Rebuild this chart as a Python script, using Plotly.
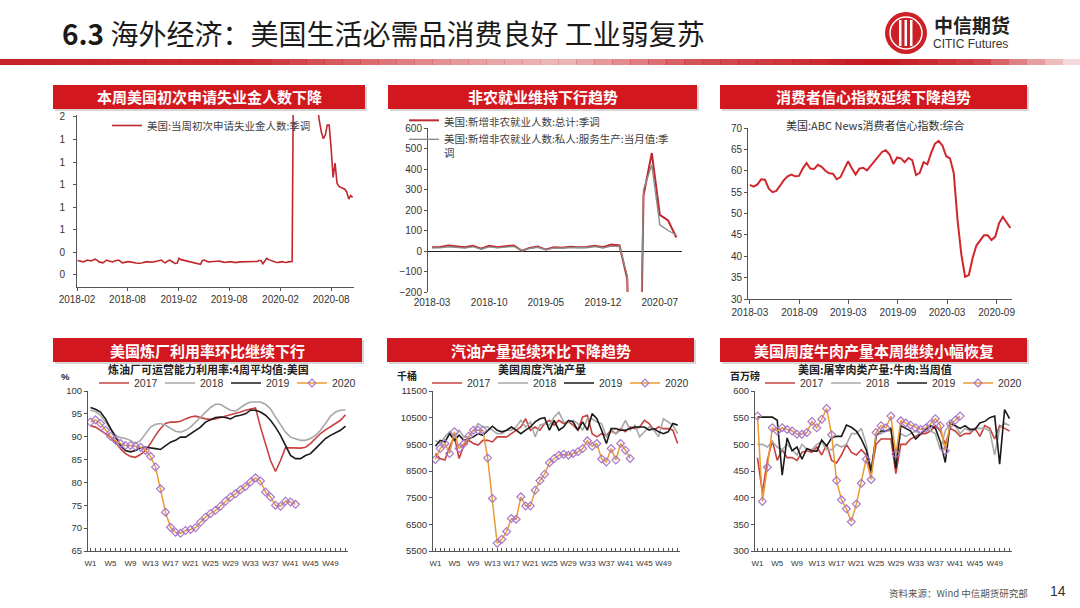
import numpy as np
import pandas as pd
import plotly.graph_objects as go

W, H = 1080, 608
def X(p): return p / W
def Y(p): return 1 - p / H

# ---------------- DATA ----------------
# Panel 1: weekly initial jobless claims (chart units)
claims_start = "2018-02-03"
claims = [
    0.160, 0.155, 0.150, 0.145, 0.155, 0.165, 0.160, 0.155, 0.165, 0.175,
    0.165, 0.145, 0.140, 0.135, 0.150, 0.165, 0.155, 0.150, 0.145, 0.155,
    0.160, 0.165, 0.150, 0.135, 0.140, 0.145, 0.148, 0.145, 0.138, 0.135,
    0.132, 0.130, 0.128, 0.132, 0.140, 0.145, 0.148, 0.142, 0.140, 0.145,
    0.150, 0.155, 0.160, 0.165, 0.145, 0.135, 0.150, 0.165, 0.155, 0.140,
    0.128, 0.130, 0.185, 0.170, 0.165, 0.160, 0.150, 0.147, 0.145, 0.140,
    0.137, 0.130, 0.120, 0.118, 0.160, 0.165, 0.155, 0.145, 0.147, 0.148,
    0.147, 0.150, 0.152, 0.155, 0.145, 0.140, 0.138, 0.145, 0.148, 0.147,
    0.140, 0.138, 0.140, 0.145, 0.146, 0.147, 0.140, 0.143, 0.147, 0.145,
    0.146, 0.148, 0.150, 0.160, 0.160, 0.125, 0.150, 0.185, 0.170, 0.160,
    0.155, 0.145, 0.138, 0.140, 0.145, 0.148, 0.142, 0.138, 0.145, 0.148,
    0.150,
    3.30, 6.90, 6.60, 5.20, 4.40, 3.80, 3.20, 2.80, 2.40, 2.20, 2.10, 2.00,
    1.86, 1.70, 1.58, 1.51, 1.55, 1.66, 1.66, 1.40, 1.08, 1.24, 1.02, 0.98,
    0.97, 0.96, 0.95, 0.92, 0.84, 0.88, 0.86,
]
claims_xticks = ["2018-02-01", "2018-08-01", "2019-02-01", "2019-08-01", "2020-02-01", "2020-08-01"]
claims_yticks = [0, 0.25, 0.5, 0.75, 1.0, 1.25, 1.5, 1.75]
claims_ytext = ["0", "0", "1", "1", "1", "1", "1", "2"]

# Panel 2: monthly nonfarm payrolls (10k persons)
nfp_start = "2018-03-01"
nfp_total = [18, 20, 27, 24, 18, 26, 11, 25, 18, 23,
             27, 1, 15, 22, 7, 18, 16, 21, 18, 19, 26, 18,
             31, 27, -137, -2068, 272, 478, 176, 149, 66]
nfp_service = [15, 16, 21, 19, 14, 21, 9, 20, 15, 19,
               22, 3, 12, 18, 6, 15, 14, 17, 16, 16, 22, 15,
               24, 22, -120, -1750, 300, 420, 128, 100, 78]
nfp_xticks = ["2018-03-01", "2018-10-01", "2019-05-01", "2019-12-01", "2020-07-01"]

# Panel 3: ABC News consumer comfort index (bi-weekly readings)
abc_start = "2018-03-01"
abc = [56.7, 56.3, 56.8, 58.0, 57.9, 55.8, 55.0, 55.3, 56.5, 57.8,
       58.7, 59.1, 58.7, 58.8, 60.5, 61.8, 60.5, 60.4, 61.4, 60.9,
       60.0, 59.4, 59.3, 58.0, 58.5, 60.2, 62.2, 60.6, 59.1, 60.5,
       60.7, 60.1, 61.2, 62.2, 63.4, 64.4, 64.8, 63.8, 61.6, 63.1,
       62.9, 62.0, 63.0, 62.5, 59.0, 59.5, 62.0, 61.5, 64.1, 66.3,
       67.0, 65.9, 63.4, 62.9, 59.5, 48.5, 40.5, 35.2, 35.6, 39.6,
       42.5, 43.7, 44.9, 44.9, 43.8, 44.6, 47.7, 49.2, 47.9, 46.6]
abc_xticks = ["2018-03-01", "2018-09-01", "2019-03-01", "2019-09-01", "2020-03-01", "2020-09-01"]

# Bottom panels: weekly seasonal series
weeks = ["W%d" % i for i in range(1, 53)]
week_labels = ["W1", "W5", "W9", "W13", "W17", "W21", "W25", "W29", "W33", "W37", "W41", "W45", "W49"]
years = ["2017", "2018", "2019", "2020"]

ref_2017 = [92.4, 92.1, 91.4, 90.7, 89.9, 88.8, 87.4, 86.3, 85.7, 85.5,
            86.1, 87.0, 88.5, 90.3, 91.8, 92.9, 93.2, 93.2, 93.4, 93.9,
            94.3, 94.5, 94.2, 93.9, 93.8, 93.9, 94.2, 94.5, 94.7, 95.0,
            95.4, 95.8, 96.0, 96.3, 92.1, 88.5, 84.8, 82.4, 84.8, 87.6,
            87.6, 87.5, 87.5, 87.7, 88.5, 89.6, 90.7, 91.5, 92.2, 92.8,
            93.6, 94.8]
ref_2018 = [95.8, 95.5, 94.7, 93.2, 91.8, 90.3, 89.8, 89.6, 89.2, 88.5,
            89.2, 90.7, 92.1, 92.7, 92.9, 92.5, 91.8, 91.2, 91.0, 91.4,
            92.1, 93.2, 94.3, 95.4, 96.4, 97.1, 97.1, 96.4, 95.8, 95.6,
            96.4, 97.1, 97.6, 97.6, 97.6, 97.1, 96.1, 94.3, 92.5, 91.0,
            89.9, 89.6, 89.2, 89.2, 89.6, 90.3, 91.4, 92.9, 94.5, 95.4,
            95.8, 95.9]
ref_2019 = [96.4, 96.0, 95.4, 93.9, 91.8, 89.9, 88.1, 87.0, 86.7, 87.0,
            87.6, 87.7, 87.6, 87.4, 87.2, 88.1, 88.8, 89.2, 89.9, 89.9,
            90.7, 91.4, 92.1, 93.2, 93.7, 94.2, 94.3, 94.2, 93.9, 94.5,
            94.7, 95.0, 95.8, 95.8, 95.4, 94.7, 93.6, 92.1, 90.3, 88.1,
            85.9, 85.2, 85.2, 85.9, 86.3, 87.4, 88.5, 89.6, 90.3, 90.8,
            91.4, 92.3]
ref_2020 = [93.2, 93.7, 92.9, 91.4, 90.1, 89.2, 88.5, 88.1, 88.1, 87.9,
            87.7, 87.0, 85.7, 83.4, 78.6, 73.5, 70.2, 69.1, 68.9, 69.5,
            69.7, 70.1, 71.3, 72.4, 73.2, 73.9, 74.8, 75.9, 76.8, 77.5,
            78.4, 79.1, 80.1, 81.0, 80.3, 77.9, 76.8, 75.0, 74.8, 75.9,
            75.7, 75.2]

gas_2017 = [9160, 8970, 8910, 9410, 9780, 8970, 9470, 9650, 9530, 9470,
            9650, 9650, 9590, 9780, 9780, 9780, 9900, 10030, 10150, 10460,
            10030, 10150, 10030, 10280, 10400, 10220, 10400, 10280, 10340, 10220,
            10030, 10530, 10590, 9900, 9780, 9900, 9840, 10030, 9900, 10090,
            9970, 10150, 10090, 10150, 10400, 10280, 10030, 10150, 10090, 10090,
            10030, 9530]
gas_2018 = [9650, 9530, 9780, 9970, 9720, 10030, 9780, 9780, 10030, 10280,
            10150, 10150, 10030, 9900, 9900, 10030, 10030, 10150, 10400, 10150,
            10340, 9780, 10220, 10280, 10220, 10530, 10710, 10340, 10340, 10400,
            10280, 10030, 10460, 10460, 10340, 10280, 9780, 9970, 9900, 10030,
            10400, 10030, 10220, 9780, 9970, 10150, 10030, 9780, 10460, 10340,
            10220, 9900]
gas_2019 = [9430, 9650, 9590, 9900, 9650, 9840, 9650, 9700, 9780, 9900,
            9840, 10030, 10180, 10030, 9970, 10030, 10150, 10030, 9900, 10030,
            10150, 10340, 10460, 10500, 10030, 10400, 10030, 10150, 10400, 10340,
            10030, 10340, 10030, 10650, 10460, 10030, 9530, 10090, 10090, 10030,
            10030, 10090, 10150, 10150, 10150, 10030, 10090, 9970, 9900, 9970,
            10280, 10220]
gas_2020 = [8930, 9340, 9530, 9160, 9970, 9340, 9530, 9800, 10030, 10030,
            10030, 8990, 7470, 5790, 5940, 6230, 6720, 6690, 7530, 7190,
            7190, 7780, 8130, 8380, 8810, 8970, 9090, 9130, 9090, 9160,
            9220, 9340, 9630, 9430, 9530, 8950, 8840, 9340, 8910, 9530,
            9280, 8970]

beef_2017 = [475, 410, 470, 507, 470, 490, 475, 475, 470, 485,
             488, 485, 495, 480, 500, 470, 465, 480, 500, 485,
             480, 490, 480, 445, 500, 510, 510, 510, 445, 500,
             500, 510, 515, 520, 520, 525, 535, 525, 500, 530,
             525, 515, 520, 520, 530, 515, 535, 530, 510, 535,
             530, 525]
beef_2018 = [500, 500, 495, 505, 495, 490, 500, 490, 480, 500,
             490, 490, 500, 505, 490, 490, 500, 495, 500, 520,
             520, 530, 500, 450, 520, 520, 525, 525, 470, 520,
             515, 520, 525, 520, 530, 525, 520, 490, 525, 540,
             535, 520, 530, 525, 530, 530, 530, 525, 480, 530,
             540, 535]
beef_2019 = [551, 551, 551, 551, 545, 442, 512, 488, 495, 472,
             492, 488, 487, 508, 497, 512, 515, 515, 536, 532,
             525, 510, 490, 450, 515, 525, 525, 530, 455, 535,
             530, 525, 510, 520, 528, 535, 530, 505, 466, 540,
             535, 530, 535, 528, 528, 540, 543, 550, 553, 463,
             565, 548]
beef_2020 = [553, 393, 457, 531, 525, 531, 528, 525, 519, 519,
             522, 543, 531, 547, 567, 518, 432, 396, 379, 355,
             388, 427, 472, 434, 522, 535, 531, 553, 482, 544,
             540, 536, 531, 528, 530, 538, 548, 535, 488, 538,
             545, 553]

# ---------------- STYLE ----------------
RED = "#c0282d"
C17, C18, C19, C20, MK20 = "#c8413f", "#a8a8a8", "#1a1a1a", "#eb9a34", "#a877c9"
CJK = "Noto Sans CJK SC"
NUM = "Liberation Sans, Arial, sans-serif"
BAR = "#d3171f"

fig = go.Figure()

# Panel 1
fig.add_trace(go.Scatter(
    x=pd.date_range(claims_start, periods=len(claims), freq="7D"), y=claims,
    mode="lines", name="美国:当周初次申请失业金人数:季调",
    line=dict(color=RED, width=1.6), xaxis="x", yaxis="y", legend="legend"))

# Panel 2
nfp_dates = pd.date_range(nfp_start, periods=len(nfp_total), freq="MS")
fig.add_trace(go.Scatter(x=nfp_dates, y=nfp_total, mode="lines",
                         name="美国:新增非农就业人数:总计:季调",
                         line=dict(color=RED, width=2), xaxis="x2", yaxis="y2", legend="legend2"))
fig.add_trace(go.Scatter(x=nfp_dates, y=nfp_service, mode="lines",
                         name="美国:新增非农就业人数:私人:服务生产:当月值:季<br>调",
                         line=dict(color="#8c8c8c", width=1.4), xaxis="x2", yaxis="y2", legend="legend2"))

# Panel 3
fig.add_trace(go.Scatter(x=pd.date_range(abc_start, periods=len(abc), freq="14D"), y=abc,
                         mode="lines", name="美国:ABC News消费者信心指数:综合", showlegend=False,
                         line=dict(color="#d0262c", width=2), xaxis="x3", yaxis="y3"))

# Bottom panels
def add_season(series, xa, ya, lg):
    cols = [C17, C18, C19]
    for name, vals, c in zip(years[:3], series[:3], cols):
        fig.add_trace(go.Scatter(x=weeks[:len(vals)], y=vals, mode="lines", name=name,
                                 line=dict(color=c, width=1.6), xaxis=xa, yaxis=ya, legend=lg))
    v20 = series[3]
    fig.add_trace(go.Scatter(x=weeks[:len(v20)], y=v20, mode="lines+markers", name=years[3],
                             line=dict(color=C20, width=1.5),
                             marker=dict(symbol="diamond-open", size=6, color=MK20, line=dict(width=1.2, color=MK20)),
                             xaxis=xa, yaxis=ya, legend=lg))

add_season([ref_2017, ref_2018, ref_2019, ref_2020], "x4", "y4", "legend4")
add_season([gas_2017, gas_2018, gas_2019, gas_2020], "x5", "y5", "legend5")
add_season([beef_2017, beef_2018, beef_2019, beef_2020], "x6", "y6", "legend6")

# ---------------- AXES ----------------
tf = dict(family=NUM, size=10, color="#333333")
base = dict(showgrid=False, zeroline=False, showline=True, linecolor="#555555", linewidth=1,
            tickfont=tf, tickcolor="#555555", fixedrange=True, automargin=False)

week_text = [w if w in week_labels else "" for w in weeks]

layout_axes = dict(
    xaxis=dict(domain=[X(77), X(354)], anchor="y", type="date",
               range=["2018-02-01", "2020-10-22"], tickmode="array", tickvals=claims_xticks,
               tickformat="%Y-%m", ticks="outside", ticklen=3, tickangle=0, **base),
    yaxis=dict(domain=[Y(287), Y(115)], anchor="x", range=[-0.133, 1.772], tickmode="array",
               tickvals=claims_yticks, ticktext=claims_ytext, ticks="outside", ticklen=3,
               ticklabelstandoff=6, **base),
    xaxis2=dict(domain=[X(428), X(682)], anchor="y2", type="date",
                range=["2018-02-14", "2020-09-22"], tickmode="array", tickvals=nfp_xticks,
                tickformat="%Y-%m", ticks="", tickangle=0, ticklabelstandoff=3,
                **{**base, "showline": False}),
    yaxis2=dict(domain=[Y(292), Y(128)], anchor="x2", range=[-200, 600], dtick=100,
                ticks="outside", ticklen=3, **{**base, "zeroline": True},
                zerolinecolor="#222222", zerolinewidth=1),
    xaxis3=dict(domain=[X(748), X(1012)], anchor="y3", type="date",
                range=["2018-02-22", "2020-10-28"], tickmode="array", tickvals=abc_xticks,
                tickformat="%Y-%m", ticks="outside", ticklen=4, tickangle=0, **base),
    yaxis3=dict(domain=[Y(299), Y(128)], anchor="x3", range=[30, 70], dtick=5,
                ticks="outside", ticklen=3, **base),
)
for i, (xd, yr, yt) in enumerate([
        ((88, 348), (65, 100), [65, 70, 75, 80, 85, 90, 95, 100]),
        ((433, 680), (5500, 11500), [5500, 6500, 7500, 8500, 9500, 10500, 11500]),
        ((755, 1012), (300, 600), [300, 350, 400, 450, 500, 550, 600])], start=4):
    layout_axes["xaxis%d" % i] = dict(
        domain=[X(xd[0]), X(xd[1])], anchor="y%d" % i, type="category",
        categoryorder="array", categoryarray=weeks, range=[-0.5, 51.5],
        tickmode="array", tickvals=weeks, ticktext=week_text, ticks="inside", ticklen=3,
        tickangle=0, ticklabelstandoff=4,
        **{**base, "tickfont": dict(family=NUM, size=8, color="#333333")})
    layout_axes["yaxis%d" % i] = dict(
        domain=[Y(551), Y(391)], anchor="x%d" % i, range=list(yr), tickmode="array",
        tickvals=yt, tickformat="d", ticks="outside", ticklen=3,
        **{**base, "tickfont": dict(family=NUM, size=9.5, color="#333333")})

# ---------------- LEGENDS ----------------
lg_common = dict(bgcolor="rgba(0,0,0,0)", borderwidth=0, tracegroupgap=0, itemclick=False,
                 itemdoubleclick=False)
legends = dict(
    legend=dict(x=X(107), y=Y(111), xanchor="left", yanchor="top",
                font=dict(family=CJK, size=10.5, color="#404040"), **lg_common),
    legend2=dict(x=X(404), y=Y(107), xanchor="left", yanchor="top", valign="top",
                 font=dict(family=CJK, size=10.5, color="#404040"), **lg_common),
)
for i, x0 in [(4, 94), (5, 427), (6, 760)]:
    legends["legend%d" % i] = dict(x=X(x0), y=Y(383), xanchor="left", yanchor="middle",
                                   orientation="h", entrywidth=21, entrywidthmode="pixels",
                                   font=dict(family=NUM, size=10.5, color="#333333"), **lg_common)

# ---------------- SHAPES & ANNOTATIONS ----------------
shapes, annos = [], []

def rect(x0, y0, x1, y1, color, layer="below"):
    shapes.append(dict(type="rect", xref="paper", yref="paper", x0=X(x0), x1=X(x1),
                       y0=Y(y1), y1=Y(y0), fillcolor=color, line=dict(width=0), layer=layer))

def text(x, y, s, size, color="#222", family=CJK, xanchor="center", bold=False):
    annos.append(dict(xref="paper", yref="paper", x=X(x), y=Y(y), text=("<b>%s</b>" % s) if bold else s,
                      showarrow=False, xanchor=xanchor, yanchor="middle",
                      font=dict(family=family, size=size, color=color)))

# header gradient rule
xs = np.linspace(0, 1080, 61)
alpha_pts = ([0, 250, 450, 560, 700, 880, 980, 1080], [0.95, 0.9, 0.45, 0.3, 0.75, 1.0, 0.8, 0.1])
for a, b in zip(xs[:-1], xs[1:]):
    al = float(np.interp((a + b) / 2, *alpha_pts))
    rect(a, 59, b + 0.5, 65, "rgba(196,22,28,%.3f)" % al)

# header title
text(60, 33, "<b>6.3</b> 海外经济：美国生活必需品消费良好 工业弱复苏", 28, "#1a1a1a", xanchor="left")
# logo
shapes.append(dict(type="circle", xref="paper", yref="paper", x0=X(885), x1=X(927), y0=Y(54), y1=Y(12),
                   fillcolor="#cc1f26", line=dict(width=0)))
shapes.append(dict(type="circle", xref="paper", yref="paper", x0=X(890), x1=X(922), y0=Y(49), y1=Y(17),
                   fillcolor="rgba(0,0,0,0)", line=dict(width=1.5, color="white")))
for bx in (899, 904.5, 910):
    rect(bx, 20, bx + 2.5, 46, "white", layer="above")
text(932, 24, "中信期货", 19, "#222222", xanchor="left", bold=True)
text(931, 44, "CITIC Futures", 12, "#333333", family=NUM, xanchor="left")

# panel title bars
bars = [((53, 85, 365, 109), "本周美国初次申请失业金人数下降"),
        ((388, 85, 697, 109), "非农就业维持下行趋势"),
        ((720, 85, 1027, 109), "消费者信心指数延续下降趋势"),
        ((53, 338, 362, 362), "美国炼厂利用率环比继续下行"),
        ((387, 338, 694, 362), "汽油产量延续环比下降趋势"),
        ((720, 338, 1027, 362), "美国周度牛肉产量本周继续小幅恢复")]
for (x0, y0, x1, y1), t in bars:
    rect(x0 + 2, y0 + 2, x1 + 2, y1 + 2, "rgba(0,0,0,0.16)")
    rect(x0, y0, x1, y1, BAR)
    text((x0 + x1) / 2, (y0 + y1) / 2, t, 15, "white", bold=True)

# panel 3 caption
text(875, 125, "美国:ABC News消费者信心指数:综合", 11, "#333333")
# bottom panel captions and units
text(208, 369, "炼油厂可运营能力利用率:4周平均值:美国", 11, "#222222", bold=True)
text(542, 369, "美国周度汽油产量", 11, "#222222", bold=True)
text(875, 369, "美国:屠宰肉类产量:牛肉:当周值", 11, "#222222", bold=True)
text(65, 376, "%", 9.5, "#222222", family=NUM, bold=True)
text(407, 375, "千桶", 10, "#222222", bold=True)
text(745, 375, "百万磅", 10, "#222222", bold=True)

# footer
text(1030, 593, "资料来源：Wind 中信期货研究部", 9.5, "#555555", xanchor="right")
text(1058, 591, "14", 14, "#333333", family=NUM)

fig.update_layout(
    template="none",
    width=W, height=H, margin=dict(l=0, r=0, t=0, b=0, autoexpand=False),
    paper_bgcolor="white", plot_bgcolor="white", font=dict(family=NUM),
    showlegend=True, shapes=shapes, annotations=annos,
    **layout_axes, **legends,
)

fig.write_html("out.html", config={"displayModeBar": False},
               post_script="document.body.style.margin='0';document.body.style.padding='0';"
                           "document.body.style.overflow='hidden';")
